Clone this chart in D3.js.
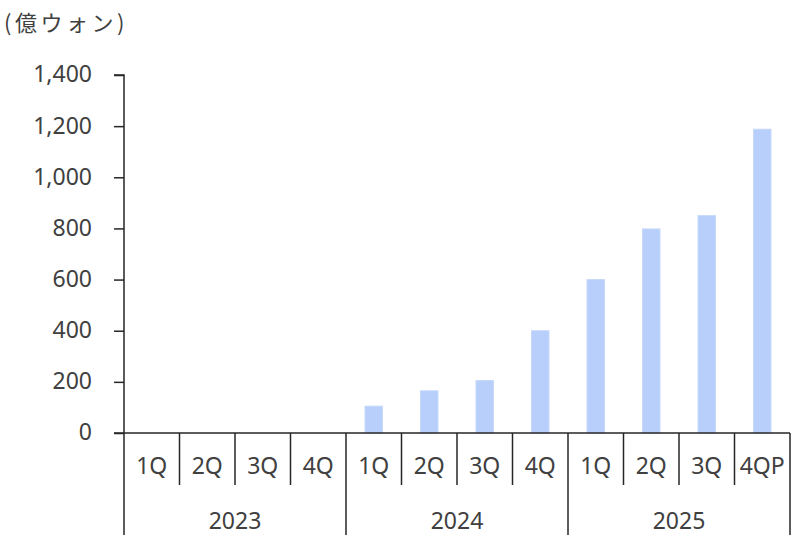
<!DOCTYPE html>
<html><head><meta charset="utf-8">
<script src="https://cdn.jsdelivr.net/npm/d3@7"></script>
<style>body{margin:0;background:#fff}svg{display:block}text{font-family:"Noto Sans","Noto Sans CJK JP",sans-serif;fill:#404040}</style>
</head><body><svg id="c" width="800" height="549"></svg>
<script>
const years = ["2023","2024","2025"];
const quarters = ["1Q","2Q","3Q","4Q","1Q","2Q","3Q","4Q","1Q","2Q","3Q","4QP"];
const values = [0,0,0,0,105,165,205,400,600,798,850,1188];
const yTicks = [0,200,400,600,800,1000,1200,1400];
const unitLabel = "(億ウォン)";

const svg = d3.select("#c");
const L=124, R=790, T=75, B=433;
const idx = d3.range(quarters.length);
const x = d3.scaleBand().domain(idx).range([L,R]).paddingInner(0.685).paddingOuter(0.3425);
const xs = d3.scaleLinear().domain([0,quarters.length]).range([L,R]);
const y = d3.scaleLinear().domain([0,1400]).range([B,T]);
const axisColor="#262626";
const fs = 23;

svg.append("text").attr("x",4).attr("y",31).attr("font-size",22)
  .attr("letter-spacing",3.5).style("font-family",'"Noto Sans CJK JP",sans-serif').text(unitLabel);

// bars
svg.append("g").selectAll("rect").data(values).join("rect")
  .attr("x",(d,i)=>x(i)).attr("width",x.bandwidth())
  .attr("y",d=>y(d)).attr("height",d=>B-y(d))
  .attr("fill","#b7cffa").attr("stroke","#c6d9fb").attr("stroke-width",1);

// y axis
const ya = svg.append("g").attr("transform",`translate(${L},0)`)
  .call(d3.axisLeft(y).tickValues(yTicks).tickSize(10).tickPadding(22).tickFormat(d3.format(",")));
ya.selectAll("path,line").attr("stroke",axisColor).attr("stroke-width",1.5);
ya.select(".domain").attr("d",`M-10,${T}H0V${B}`);
ya.selectAll("text").attr("font-size",fs).attr("fill","#404040").attr("dy","0.3em")
  .style("font-family",'"Noto Sans","Noto Sans CJK JP",sans-serif');

// x axis line
svg.append("line").attr("x1",L-10).attr("x2",R).attr("y1",B).attr("y2",B).attr("stroke",axisColor).attr("stroke-width",1.5);
// separators
const seps = d3.range(quarters.length+1);
svg.append("g").selectAll("line").data(seps).join("line")
  .attr("x1",d=>xs(d)).attr("x2",d=>xs(d)).attr("y1",B)
  .attr("y2",d=>d%4===0?535:485).attr("stroke",axisColor).attr("stroke-width",1.5);
svg.append("g").selectAll("text").data(quarters).join("text")
  .attr("x",(d,i)=>xs(i+0.5)).attr("y",474).attr("text-anchor","middle").attr("font-size",fs).text(d=>d);
svg.append("g").selectAll("text").data(years).join("text")
  .attr("x",(d,i)=>xs(i*4+2)).attr("y",529).attr("text-anchor","middle").attr("font-size",fs).text(d=>d);
</script></body></html>
